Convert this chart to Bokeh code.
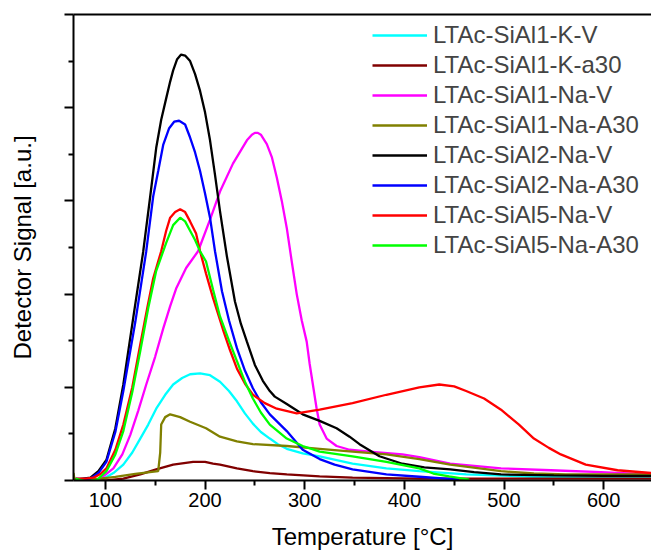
from bokeh.plotting import figure
from bokeh.models import LinearAxis, FixedTicker, Range1d, Legend, LegendItem
from bokeh.embed import file_html
from bokeh.resources import INLINE

# ---------------- data ----------------
labels = ["LTAc-SiAl1-K-V", "LTAc-SiAl1-K-a30", "LTAc-SiAl1-Na-V", "LTAc-SiAl1-Na-A30",
          "LTAc-SiAl2-Na-V", "LTAc-SiAl2-Na-A30", "LTAc-SiAl5-Na-V", "LTAc-SiAl5-Na-A30"]
colors = ["#00FFFF", "#800000", "#FF00FF", "#808000", "#000000", "#0000FF", "#FF0000", "#00FF00"]

k1v_x = [70, 90, 98, 108, 118, 127, 135, 143, 151, 160, 168, 177, 185, 195, 205, 215, 224, 232, 240, 248,
         256, 265, 273, 282, 298, 315, 348, 382, 415, 462, 530, 648]
k1v_y = [0.02, 0.01, 0.02, 0.08, 0.17, 0.30, 0.45, 0.60, 0.77, 0.92, 1.03, 1.10, 1.14, 1.15, 1.13, 1.06, 0.96, 0.85, 0.72, 0.61,
         0.52, 0.45, 0.39, 0.34, 0.29, 0.26, 0.18, 0.13, 0.10, 0.065, 0.04, 0.04]

k1a_x = [70, 101, 118, 135, 151, 168, 188, 200, 208, 215, 232, 248, 265, 282, 315, 348, 415, 648]
k1a_y = [0.01, 0.00, 0.02, 0.065, 0.12, 0.17, 0.20, 0.20, 0.18, 0.17, 0.13, 0.10, 0.08, 0.065, 0.045, 0.03, 0.02, 0.02]

na1v_x = [70, 90, 95, 108, 117, 125, 133, 141, 150, 158, 165, 171, 181, 193, 205, 215, 228, 242, 247, 250,
          253, 256, 262, 267, 272, 277, 282, 287, 292, 297, 302, 305, 312, 315, 322, 332, 345, 365, 398, 415,
          446, 497, 547, 597, 648]
na1v_y = [0.02, 0.01, 0.02, 0.13, 0.28, 0.49, 0.75, 1.03, 1.33, 1.63, 1.87, 2.06, 2.28, 2.46, 2.80, 3.10, 3.40, 3.65, 3.71, 3.73,
          3.73, 3.71, 3.61, 3.47, 3.25, 3.00, 2.71, 2.35, 2.00, 1.72, 1.49, 1.25, 0.77, 0.60, 0.45, 0.37, 0.33, 0.31, 0.28, 0.25,
          0.18, 0.13, 0.11, 0.09, 0.065]

na1a_x = [68, 69, 80, 95, 110, 130, 153, 155, 156, 160, 165, 175, 185, 201, 215, 232, 248, 282, 315, 348,
          382, 415, 446, 497, 530, 562, 648]
na1a_y = [0.08, 0.01, 0.01, 0.02, 0.04, 0.07, 0.10, 0.30, 0.60, 0.68, 0.71, 0.68, 0.63, 0.56, 0.47, 0.42, 0.39, 0.37, 0.34, 0.31,
          0.28, 0.23, 0.17, 0.10, 0.075, 0.065, 0.065]

na2v_x = [70, 85, 93, 101, 110, 118, 128, 138, 145, 151, 156, 161, 165, 168, 172, 176, 180, 185, 190, 195,
          200, 205, 210, 215, 222, 230, 236, 242, 250, 258, 265, 270, 282, 298, 315, 332, 345, 355, 375, 398,
          420, 446, 470, 497, 550, 600, 648]
na2v_y = [0.01, 0.03, 0.10, 0.22, 0.56, 1.03, 1.75, 2.46, 3.05, 3.57, 3.87, 4.10, 4.28, 4.40, 4.52, 4.57, 4.56, 4.50, 4.36, 4.18,
          3.95, 3.65, 3.28, 2.89, 2.40, 1.92, 1.68, 1.49, 1.24, 1.07, 0.96, 0.90, 0.82, 0.71, 0.64, 0.56, 0.47, 0.39, 0.26, 0.18,
          0.14, 0.12, 0.09, 0.065, 0.055, 0.05, 0.05]

na2a_x = [70, 85, 93, 101, 110, 118, 130, 141, 148, 153, 158, 164, 169, 174, 180, 185, 190, 195, 200, 205,
          210, 217, 224, 232, 240, 248, 256, 265, 282, 298, 315, 330, 348, 382, 415, 455]
na2a_y = [0.01, 0.02, 0.08, 0.20, 0.52, 0.96, 1.70, 2.46, 3.05, 3.32, 3.60, 3.78, 3.85, 3.86, 3.82, 3.68, 3.52, 3.32, 3.08, 2.82,
          2.46, 2.03, 1.72, 1.42, 1.18, 0.99, 0.84, 0.71, 0.53, 0.33, 0.23, 0.17, 0.12, 0.065, 0.04, 0.01]

na5v_x = [70, 80, 88, 95, 101, 110, 118, 127, 135, 142, 148, 156, 161, 165, 170, 175, 180, 185, 191, 195,
          201, 208, 218, 225, 232, 240, 248, 260, 272, 292, 315, 348, 382, 415, 435, 450, 462, 480, 497, 515,
          530, 545, 557, 582, 614, 648]
na5v_y = [0.02, 0.02, 0.03, 0.07, 0.13, 0.33, 0.60, 1.00, 1.46, 1.85, 2.17, 2.46, 2.68, 2.82, 2.88, 2.91, 2.88, 2.78, 2.65, 2.46,
          2.22, 1.96, 1.62, 1.40, 1.20, 1.04, 0.92, 0.83, 0.77, 0.72, 0.76, 0.83, 0.92, 1.00, 1.03, 1.01, 0.96, 0.88, 0.76, 0.60,
          0.45, 0.35, 0.28, 0.17, 0.11, 0.08]

na5a_x = [70, 80, 91, 101, 110, 118, 127, 135, 143, 151, 156, 161, 168, 175, 180, 185, 190, 195, 201, 208,
          215, 224, 232, 240, 248, 256, 265, 282, 298, 315, 348, 382, 415, 429, 445, 465]
na5a_y = [0.02, -0.01, 0.00, 0.10, 0.28, 0.53, 0.95, 1.39, 1.85, 2.25, 2.40, 2.55, 2.74, 2.82, 2.78, 2.68, 2.58, 2.46, 2.35, 2.05,
          1.76, 1.50, 1.28, 1.06, 0.88, 0.73, 0.60, 0.45, 0.37, 0.31, 0.26, 0.20, 0.13, 0.075, 0.045, 0.01]

series_x = [k1v_x, k1a_x, na1v_x, na1a_x, na2v_x, na2a_x, na5v_x, na5a_x]
series_y = [k1v_y, k1a_y, na1v_y, na1a_y, na2v_y, na2a_y, na5v_y, na5a_y]

x_major = [100, 200, 300, 400, 500, 600]
x_minor = [150, 250, 350, 450, 550, 650]
y_major = [0, 1, 2, 3, 4, 5]
y_minor = [0.5, 1.5, 2.5, 3.5, 4.5]

FONT = "Liberation Sans"

p = figure(width=651, height=553, output_backend="svg", toolbar_location=None,
           x_range=Range1d(68, 648), y_range=Range1d(0, 5),
           min_border_left=73, min_border_right=0, min_border_top=14, min_border_bottom=73)
p.outline_line_color = None
p.xgrid.visible = False
p.ygrid.visible = False
p.background_fill_color = "white"

for ax in (p.xaxis[0], p.yaxis[0]):
    ax.axis_line_width = 2
    ax.major_tick_line_width = 2
    ax.minor_tick_line_width = 2
    ax.major_tick_in = 0
    ax.major_tick_out = 9
    ax.minor_tick_in = 0
    ax.minor_tick_out = 5
    ax.axis_label_text_font = FONT
    ax.axis_label_text_font_style = "normal"
    ax.axis_label_text_font_size = "24px"
    ax.axis_label_text_color = "black"
    ax.major_label_text_font = FONT
    ax.major_label_text_color = "black"

p.xaxis[0].ticker = FixedTicker(ticks=x_major, minor_ticks=x_minor)
p.xaxis[0].major_label_text_font_size = "20px"
p.xaxis[0].major_label_standoff = 3
p.xaxis[0].axis_label = "Temperature [°C]"
p.xaxis[0].axis_label_standoff = 13

p.yaxis[0].ticker = FixedTicker(ticks=y_major, minor_ticks=y_minor)
p.yaxis[0].major_label_text_font_size = "20px"
p.yaxis[0].major_label_overrides = {v: "" for v in y_major}
p.yaxis[0].major_label_standoff = 0
p.yaxis[0].axis_label = "Detector Signal [a.u.]"
p.yaxis[0].axis_label_standoff = 29

top = LinearAxis(ticker=FixedTicker(ticks=[], minor_ticks=[]), axis_line_width=2,
                 major_tick_line_color=None, minor_tick_line_color=None,
                 major_label_standoff=0)
p.add_layout(top, "above")

items = []
for xs, ys, c, lab in zip(series_x, series_y, colors, labels):
    r = p.line(xs, ys, line_color=c, line_width=2.3)
    items.append(LegendItem(label=lab, renderers=[r]))

legend = Legend(items=items, location=(299, 221), border_line_color=None,
                background_fill_alpha=0, label_text_font=FONT, label_text_font_size="24px",
                glyph_width=55, glyph_height=28, label_height=28, spacing=2, padding=0,
                margin=0, label_standoff=6)
p.add_layout(legend)

open("out.html", "w").write(file_html(p, INLINE))
